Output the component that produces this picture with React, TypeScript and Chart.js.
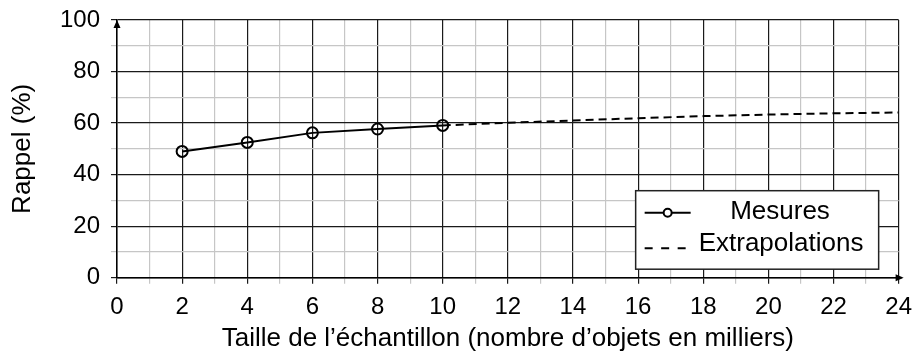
import { useEffect, useRef } from 'react';
import { Chart, registerables } from 'chart.js';

Chart.register(...registerables);

// ---- data ----
const measuredSizes = [2, 4, 6, 8, 10];
const measuredRecall = [49.0, 52.5, 56.2, 57.7, 59.1];
const extrapSizes = [10, 12, 14, 16, 18, 20, 22, 24];
const extrapRecall = [59.1, 60.1, 61.0, 61.9, 62.7, 63.3, 63.8, 64.1];
const xTickLabels = [0, 2, 4, 6, 8, 10, 12, 14, 16, 18, 20, 22, 24];
const yTickLabels = [0, 20, 40, 60, 80, 100];
const seriesNames = ['Mesures', 'Extrapolations'];
const xTitle = 'Taille de l\u2019échantillon (nombre d\u2019objets en milliers)';
const yTitle = 'Rappel (%)';

const FONT = "'Liberation Sans', Arial, sans-serif";
const DARK = '#1a1a1a';
const LIGHT = '#c6c6c6';

const decorPlugin = {
  id: 'decor',
  afterDraw(chart: any) {
    const { ctx, chartArea: a } = chart;
    ctx.save();
    ctx.fillStyle = '#000';
    ctx.strokeStyle = '#000';
    ctx.lineWidth = 1.5;
    // y axis arrow
    ctx.beginPath();
    ctx.moveTo(a.left, a.top);
    ctx.lineTo(a.left - 3.5, a.top + 8);
    ctx.lineTo(a.left + 3.5, a.top + 8);
    ctx.closePath();
    ctx.fill();
    // x axis extension + arrow
    ctx.beginPath();
    ctx.moveTo(a.right, a.bottom);
    ctx.lineTo(a.right + 3, a.bottom);
    ctx.stroke();
    ctx.beginPath();
    ctx.moveTo(a.right + 5, a.bottom);
    ctx.lineTo(a.right - 3, a.bottom - 3.5);
    ctx.lineTo(a.right - 3, a.bottom + 3.5);
    ctx.closePath();
    ctx.fill();

    // legend box
    const bx = a.right - 263;
    const by = a.bottom - 87;
    const bw = 243;
    const bh = 78.5;
    ctx.fillStyle = '#fff';
    ctx.fillRect(bx, by, bw, bh);
    ctx.strokeStyle = '#222';
    ctx.lineWidth = 1.5;
    ctx.strokeRect(bx, by, bw, bh);

    // row 1: solid line with circle
    const r1 = by + 22;
    ctx.strokeStyle = '#000';
    ctx.lineWidth = 2;
    ctx.beginPath();
    ctx.moveTo(bx + 9, r1);
    ctx.lineTo(bx + 55, r1);
    ctx.stroke();
    ctx.fillStyle = '#fff';
    ctx.beginPath();
    ctx.arc(bx + 32, r1, 4, 0, Math.PI * 2);
    ctx.fill();
    ctx.stroke();
    // row 2: dashed
    const r2 = by + 57.5;
    ctx.setLineDash([8, 8.5]);
    ctx.beginPath();
    ctx.moveTo(bx + 9, r2);
    ctx.lineTo(bx + 50, r2);
    ctx.stroke();
    ctx.setLineDash([]);

    ctx.fillStyle = '#000';
    ctx.font = `26px ${FONT}`;
    ctx.textBaseline = 'middle';
    ctx.textAlign = 'left';
    ctx.fillText(seriesNames[0], bx + 94.5, r1 - 1);
    ctx.fillText(seriesNames[1], bx + 63, r2 - 4);
    ctx.restore();
  },
};

export default function App() {
  const ref = useRef<HTMLCanvasElement>(null);

  useEffect(() => {
    if (!ref.current) return;
    const chart = new Chart(ref.current, {
      type: 'line',
      data: {
        datasets: [
          {
            label: seriesNames[0],
            data: measuredSizes.map((x, i) => ({ x, y: measuredRecall[i] })),
            borderColor: '#000',
            borderWidth: 2,
            pointRadius: 5.5,
            pointBorderWidth: 2,
            pointBorderColor: '#000',
            pointBackgroundColor: 'rgba(0,0,0,0)',
            fill: false,
            order: 1,
          },
          {
            label: seriesNames[1],
            data: extrapSizes.map((x, i) => ({ x, y: extrapRecall[i] })),
            borderColor: '#000',
            borderWidth: 2,
            borderDash: [8, 5],
            pointRadius: 0,
            fill: false,
            order: 2,
          },
        ],
      },
      options: {
        animation: false,
        responsive: true,
        maintainAspectRatio: false,
        layout: { autoPadding: false, padding: { top: 20, right: 21, left: 0, bottom: 0 } },
        plugins: { legend: { display: false }, tooltip: { enabled: false } },
        scales: {
          x: {
            type: 'linear',
            min: 0,
            max: 24,
            afterFit: (s: any) => {
              s.height = 80.3;
            },
            ticks: {
              stepSize: 1,
              autoSkip: false,
              maxRotation: 0,
              padding: 9,
              color: '#000',
              font: { family: FONT, size: 24 },
              callback: (v: any) => (xTickLabels.includes(Number(v)) ? String(v) : ''),
            },
            grid: {
              color: (c: any) => (c.tick && c.tick.value % 2 === 0 ? DARK : LIGHT),
              lineWidth: 1.2,
              tickLength: 6,
            },
            border: { display: true, color: '#000', width: 1.5 },
            title: {
              display: true,
              text: xTitle,
              color: '#000',
              font: { family: FONT, size: 26 },
              padding: { top: 0, bottom: 4 },
            },
          },
          y: {
            type: 'linear',
            min: 0,
            max: 100,
            afterFit: (s: any) => {
              s.width = 117;
              s.paddingTop = 0;
              s.paddingBottom = 0;
            },
            ticks: {
              stepSize: 10,
              autoSkip: false,
              padding: 11,
              color: '#000',
              font: { family: FONT, size: 24 },
              callback: (v: any) => (yTickLabels.includes(Number(v)) ? String(v) : ''),
            },
            grid: {
              color: (c: any) => (c.tick && c.tick.value % 20 === 0 ? DARK : LIGHT),
              lineWidth: 1.2,
              tickLength: 6,
            },
            border: { display: true, color: '#000', width: 1.5 },
            title: {
              display: true,
              text: yTitle,
              color: '#000',
              font: { family: FONT, size: 26 },
              padding: { top: 7, bottom: 0 },
            },
          },
        },
      },
      plugins: [decorPlugin],
    });
    return () => chart.destroy();
  }, []);

  return (
    <div style={{ position: 'fixed', left: 0, top: 0, width: 921, height: 358, background: '#fff' }}>
      <canvas ref={ref} />
    </div>
  );
}
